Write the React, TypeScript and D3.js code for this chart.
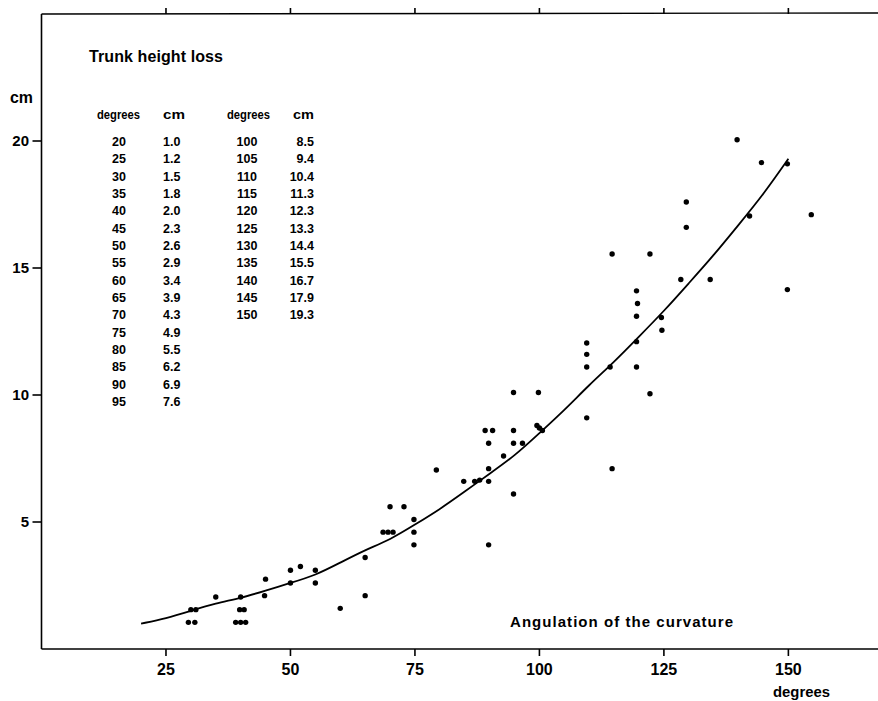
import React from "react";
import * as d3 from "d3";

// Fitted curve table (degrees -> cm)
const tableDegrees: number[] = [20, 25, 30, 35, 40, 45, 50, 55, 60, 65, 70, 75, 80, 85, 90, 95, 100, 105, 110, 115, 120, 125, 130, 135, 140, 145, 150];
const tableCm: number[] = [1.0, 1.2, 1.5, 1.8, 2.0, 2.3, 2.6, 2.9, 3.4, 3.9, 4.3, 4.9, 5.5, 6.2, 6.9, 7.6, 8.5, 9.4, 10.4, 11.3, 12.3, 13.3, 14.4, 15.5, 16.7, 17.9, 19.3];

// Observed points
const obsDegrees: number[] = [
  29.5, 30.8, 30.0, 31.0, 35.0, 39.0, 40.0, 41.0, 39.8, 40.7,
  40.0, 45.0, 44.8, 50.0, 50.0, 52.0, 55.0, 55.0, 60.0, 65.0,
  65.0, 68.6, 69.6, 70.6, 70.0, 72.8, 74.8, 74.8, 74.8, 79.3,
  84.8, 87.0, 88.0, 89.8, 89.8, 89.8, 89.8, 89.1, 90.6, 92.8,
  94.8, 94.8, 94.8, 94.8, 96.6, 99.8, 99.5, 100.0, 100.6, 109.5,
  109.5, 109.5, 109.5, 114.2, 114.6, 114.6, 122.2, 119.5, 119.5, 119.5,
  119.7, 119.5, 122.2, 124.5, 124.6, 128.4, 134.3, 129.5, 129.5, 139.7,
  144.6, 149.8, 142.2, 154.6, 149.8,
];
const obsCm: number[] = [
  1.05, 1.05, 1.55, 1.55, 2.05, 1.05, 1.05, 1.05, 1.55, 1.55,
  2.05, 2.75, 2.1, 3.1, 2.6, 3.25, 3.1, 2.6, 1.6, 3.6,
  2.1, 4.6, 4.6, 4.6, 5.6, 5.6, 5.1, 4.6, 4.1, 7.05,
  6.6, 6.6, 6.65, 6.6, 4.1, 7.1, 8.1, 8.6, 8.6, 7.6,
  10.1, 8.6, 8.1, 6.1, 8.1, 10.1, 8.8, 8.7, 8.6, 9.1,
  11.1, 11.6, 12.05, 11.1, 15.55, 7.1, 10.05, 11.1, 12.1, 13.1,
  13.6, 14.1, 15.55, 13.05, 12.55, 14.55, 14.55, 16.6, 17.6, 20.05,
  19.15, 19.1, 17.05, 17.1, 14.15,
];

const xTicks: number[] = [25, 50, 75, 100, 125, 150];
const yTicks: number[] = [5, 10, 15, 20];

const W = 878;
const H = 701;
const FONT = "'Liberation Sans', Arial, sans-serif";

export default function App() {
  const x = d3.scaleLinear().domain([0, 168]).range([41.5, 878]);
  const y = d3.scaleLinear().domain([0, 25]).range([649, 14]);

  const curvePts: [number, number][] = tableDegrees.map((d, i) => [d, tableCm[i]]);
  const line = d3
    .line<[number, number]>()
    .x((d) => x(d[0]))
    .y((d) => y(d[1]))
    .curve(d3.curveBasis);

  const left = x(0);
  const bottom = y(0);
  const top = y(25);

  const col1 = tableDegrees.slice(0, 16).map((d, i) => ({ d, c: tableCm[i] }));
  const col2 = tableDegrees.slice(16).map((d, i) => ({ d, c: tableCm[i + 16] }));
  const rowY = (i: number) => 146 + i * 17.33;

  return (
    <svg
      width={W}
      height={H}
      style={{ position: "absolute", left: 0, top: 0, background: "#fff" }}
      fontFamily={FONT}
    >
      <rect x={0} y={0} width={W} height={H} fill="#fff" />
      {/* axes lines */}
      <line x1={left} x2={left} y1={top} y2={bottom} stroke="#000" strokeWidth={1.6} />
      <line x1={left} x2={W} y1={bottom} y2={bottom} stroke="#000" strokeWidth={1.6} />
      <line x1={left} x2={W} y1={top} y2={top - 1} stroke="#000" strokeWidth={1.4} />

      {/* x ticks */}
      {xTicks.map((t) => (
        <g key={"xt" + t}>
          <line x1={x(t)} x2={x(t)} y1={bottom} y2={bottom + 7} stroke="#000" strokeWidth={1.6} />
          <line x1={x(t)} x2={x(t)} y1={top} y2={top - 6} stroke="#000" strokeWidth={1.6} />
          <text x={x(t)} y={675} textAnchor="middle" fontSize={16} fontWeight="bold">
            {t}
          </text>
        </g>
      ))}

      {/* y ticks */}
      {yTicks.map((t) => (
        <g key={"yt" + t}>
          <line x1={left - 9} x2={left} y1={y(t)} y2={y(t)} stroke="#000" strokeWidth={1.6} />
          <text x={29} y={y(t)} dy="0.36em" textAnchor="end" fontSize={15} fontWeight="bold">
            {t}
          </text>
        </g>
      ))}

      {/* axis labels */}
      <text x={10} y={103} fontSize={16} fontWeight="bold" textLength={23} lengthAdjust="spacingAndGlyphs">
        cm
      </text>
      <text x={773} y={697} fontSize={15} fontWeight="bold" textLength={57} lengthAdjust="spacingAndGlyphs">
        degrees
      </text>
      <text x={510} y={627} fontSize={15} fontWeight="bold" textLength={223} lengthAdjust="spacing">
        Angulation of the curvature
      </text>
      <text x={89} y={62} fontSize={16} fontWeight="bold" textLength={134} lengthAdjust="spacing">
        Trunk height loss
      </text>

      {/* table */}
      <g fontSize={12.5} fontWeight="bold">
        <text x={97} y={119} textLength={43} lengthAdjust="spacingAndGlyphs">degrees</text>
        <text x={163} y={119} textLength={22} lengthAdjust="spacingAndGlyphs">cm</text>
        <text x={227} y={119} textLength={43} lengthAdjust="spacingAndGlyphs">degrees</text>
        <text x={293} y={119} textLength={21} lengthAdjust="spacingAndGlyphs">cm</text>
        {col1.map((r, i) => (
          <g key={"c1" + r.d}>
            <text x={119} y={rowY(i)} textAnchor="middle">{r.d}</text>
            <text x={163} y={rowY(i)}>{r.c.toFixed(1)}</text>
          </g>
        ))}
        {col2.map((r, i) => (
          <g key={"c2" + r.d}>
            <text x={247} y={rowY(i)} textAnchor="middle">{r.d}</text>
            <text x={314} y={rowY(i)} textAnchor="end">{r.c.toFixed(1)}</text>
          </g>
        ))}
      </g>

      {/* fitted curve */}
      <path d={line(curvePts) || ""} fill="none" stroke="#000" strokeWidth={1.8} />

      {/* observations */}
      {obsDegrees.map((d, i) => (
        <circle key={"p" + i} cx={x(d)} cy={y(obsCm[i])} r={2.7} fill="#000" />
      ))}
    </svg>
  );
}
